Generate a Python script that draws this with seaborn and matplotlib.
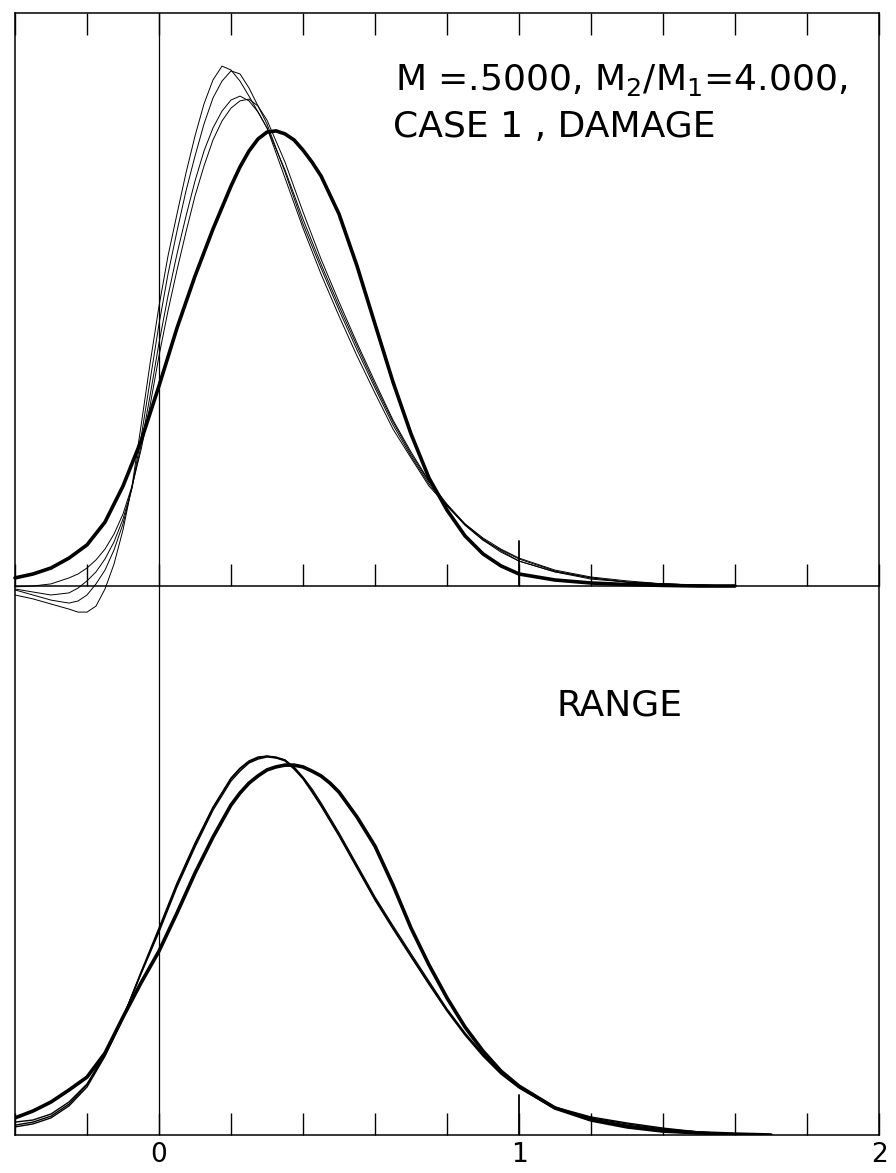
import matplotlib.pyplot as plt
import seaborn as sns
import numpy as np

# upper panel (damage) - ordinates, frame top = 1.91
x_dmg_thick = [-0.4, -0.35, -0.3, -0.25, -0.2, -0.15, -0.1, -0.05, 0.0, 0.05, 0.1, 0.15, 0.2,
               0.225, 0.25, 0.275, 0.3, 0.325, 0.35, 0.375, 0.4, 0.425, 0.45, 0.5, 0.55, 0.6,
               0.65, 0.7, 0.75, 0.8, 0.85, 0.9, 0.95, 1.0, 1.1, 1.2, 1.3, 1.4, 1.5, 1.6]
dmg_thick = [0.027, 0.040, 0.060, 0.093, 0.137, 0.213, 0.333, 0.483, 0.667, 0.860, 1.033, 1.190,
             1.333, 1.397, 1.450, 1.490, 1.513, 1.517, 1.507, 1.487, 1.453, 1.413, 1.367, 1.240,
             1.067, 0.873, 0.680, 0.507, 0.360, 0.253, 0.167, 0.107, 0.067, 0.040, 0.020, 0.010,
             0.005, 0.002, 0.0, 0.0]

x_dmg_thin = [-0.4, -0.35, -0.3, -0.25, -0.225, -0.2, -0.175, -0.15, -0.125, -0.1, -0.075, -0.05,
              -0.025, 0.0, 0.025, 0.05, 0.075, 0.1, 0.125, 0.15, 0.175, 0.2, 0.225, 0.25, 0.275,
              0.3, 0.35, 0.4, 0.45, 0.5, 0.55, 0.6, 0.65, 0.7, 0.75, 0.8, 0.85, 0.9, 0.95, 1.0,
              1.1, 1.2, 1.3, 1.4, 1.5, 1.6]
dmg_thin_a = [-0.030, -0.043, -0.060, -0.077, -0.087, -0.087, -0.067, -0.010, 0.073, 0.187, 0.333,
              0.533, 0.740, 0.933, 1.100, 1.240, 1.377, 1.500, 1.607, 1.687, 1.733, 1.720, 1.683,
              1.633, 1.580, 1.527, 1.360, 1.193, 1.040, 0.900, 0.767, 0.643, 0.523, 0.427, 0.333,
              0.267, 0.207, 0.160, 0.123, 0.093, 0.053, 0.030, 0.017, 0.007, 0.003, 0.0]
dmg_thin_b = [-0.013, -0.030, -0.047, -0.057, -0.050, -0.030, 0.007, 0.053, 0.120, 0.207, 0.327,
              0.493, 0.683, 0.873, 1.040, 1.183, 1.317, 1.433, 1.540, 1.627, 1.683, 1.717, 1.707,
              1.660, 1.600, 1.540, 1.380, 1.207, 1.060, 0.920, 0.787, 0.660, 0.537, 0.433, 0.340,
              0.267, 0.203, 0.153, 0.120, 0.090, 0.050, 0.027, 0.013, 0.007, 0.003, 0.0]
dmg_thin_c = [-0.010, -0.020, -0.030, -0.023, -0.007, 0.017, 0.047, 0.090, 0.147, 0.223, 0.327,
              0.467, 0.633, 0.810, 0.967, 1.107, 1.233, 1.350, 1.450, 1.527, 1.583, 1.620, 1.633,
              1.617, 1.580, 1.527, 1.387, 1.223, 1.073, 0.933, 0.800, 0.670, 0.547, 0.440, 0.347,
              0.270, 0.203, 0.153, 0.113, 0.083, 0.047, 0.027, 0.013, 0.007, 0.003, 0.0]
dmg_thin_d = [-0.003, 0.0, 0.007, 0.027, 0.040, 0.060, 0.087, 0.123, 0.173, 0.240, 0.333, 0.453,
              0.600, 0.767, 0.917, 1.053, 1.180, 1.300, 1.400, 1.487, 1.550, 1.593, 1.617, 1.623,
              1.600, 1.553, 1.413, 1.247, 1.090, 0.947, 0.810, 0.680, 0.553, 0.447, 0.350, 0.273,
              0.207, 0.157, 0.117, 0.083, 0.047, 0.023, 0.013, 0.007, 0.003, 0.0]

# lower panel (range)
x_rng = [-0.4, -0.35, -0.3, -0.25, -0.2, -0.15, -0.1, -0.05, 0.0, 0.05, 0.1, 0.15, 0.2, 0.225,
         0.25, 0.275, 0.3, 0.325, 0.35, 0.375, 0.4, 0.425, 0.45, 0.475, 0.5, 0.55, 0.6, 0.65,
         0.7, 0.75, 0.8, 0.85, 0.9, 0.95, 1.0, 1.1, 1.2, 1.3, 1.4, 1.5, 1.6, 1.7]
rng_thick = [0.057, 0.080, 0.110, 0.150, 0.193, 0.273, 0.393, 0.507, 0.613, 0.740, 0.873, 0.993,
             1.100, 1.140, 1.173, 1.197, 1.217, 1.227, 1.233, 1.233, 1.227, 1.213, 1.197, 1.173,
             1.143, 1.060, 0.963, 0.833, 0.690, 0.567, 0.457, 0.360, 0.280, 0.213, 0.163, 0.090,
             0.050, 0.027, 0.013, 0.007, 0.003, 0.0]
rng_thin_a = [0.033, 0.043, 0.063, 0.103, 0.167, 0.267, 0.390, 0.540, 0.683, 0.833, 0.967, 1.090,
              1.187, 1.220, 1.243, 1.257, 1.263, 1.260, 1.250, 1.223, 1.190, 1.147, 1.100, 1.050,
              1.000, 0.893, 0.787, 0.690, 0.597, 0.505, 0.417, 0.337, 0.267, 0.207, 0.160, 0.090,
              0.057, 0.037, 0.020, 0.010, 0.003, 0.0]
rng_thin_b = [0.027, 0.037, 0.057, 0.097, 0.160, 0.263, 0.390, 0.543, 0.690, 0.840, 0.973, 1.093,
              1.190, 1.223, 1.247, 1.260, 1.263, 1.257, 1.247, 1.220, 1.187, 1.143, 1.097, 1.047,
              0.997, 0.890, 0.783, 0.687, 0.594, 0.502, 0.413, 0.333, 0.263, 0.203, 0.157, 0.087,
              0.053, 0.033, 0.017, 0.007, 0.003, 0.0]
rng_thin_c = [0.043, 0.050, 0.070, 0.110, 0.170, 0.270, 0.393, 0.537, 0.677, 0.827, 0.960, 1.083,
              1.180, 1.213, 1.240, 1.253, 1.260, 1.257, 1.250, 1.227, 1.193, 1.153, 1.107, 1.057,
              1.007, 0.900, 0.793, 0.697, 0.604, 0.512, 0.420, 0.340, 0.270, 0.210, 0.163, 0.093,
              0.060, 0.040, 0.023, 0.010, 0.003, 0.0]

tick_pos = [-0.4, -0.2, 0.0, 0.2, 0.4, 0.6, 0.8, 1.0, 1.2, 1.4, 1.6, 1.8, 2.0]
tick_labels = ["", "", "0", "", "", "", "", "1", "", "", "", "", "2"]

sns.set_theme(style="white")
plt.rcParams['font.family'] = ['DejaVu Sans']
plt.rcParams['text.color'] = 'black'
plt.rcParams['xtick.color'] = 'black'

W, H = 896, 1173
fig = plt.figure(figsize=(W / 100, H / 100), dpi=100)
left, right = 15 / W, 879 / W
ax1 = fig.add_axes([left, (H - 586) / H, right - left, 573 / H])
ax2 = fig.add_axes([left, (H - 1135) / H, right - left, 549 / H])

for ax in (ax1, ax2):
    ax.patch.set_alpha(0)
    ax.set_xlim(-0.4, 2.0)
    ax.set_yticks([])
    ax.set_xticks(tick_pos)
    for s in ax.spines.values():
        s.set_color("black")
        s.set_linewidth(1.1)
    ax.axvline(0, color="black", lw=0.9)

ax1.set_ylim(0, 1.91)
ax2.set_ylim(0, 1.83)
ax2.spines["top"].set_visible(False)

ax1.tick_params(axis="x", direction="in", length=16, width=1.0, color="black",
                top=True, bottom=True, labelbottom=False, labeltop=False)
ax2.tick_params(axis="x", direction="in", length=16, width=1.0, color="black",
                top=False, bottom=True, labelsize=19, pad=5, labelcolor="black")
ax2.set_xticklabels(tick_labels)

# long tick at 1
ax1.axvline(1.0, ymin=0, ymax=45 / 573, color="black", lw=1.3)
ax2.axvline(1.0, ymin=0, ymax=40 / 549, color="black", lw=1.3)

for yv in (dmg_thin_a, dmg_thin_b, dmg_thin_c, dmg_thin_d):
    sns.lineplot(x=x_dmg_thin, y=yv, ax=ax1, color="black", linewidth=0.7, clip_on=False)
sns.lineplot(x=x_dmg_thick, y=dmg_thick, ax=ax1, color="black", linewidth=2.6, clip_on=False)

for yv in (rng_thin_a, rng_thin_b, rng_thin_c):
    sns.lineplot(x=x_rng, y=yv, ax=ax2, color="black", linewidth=1.0)
sns.lineplot(x=x_rng, y=rng_thick, ax=ax2, color="black", linewidth=2.6)

for ax in (ax1, ax2):
    ax.set_xlabel("")
    ax.set_ylabel("")

fig.text(395 / W, 1 - 90 / H, r"M =.5000, M$_2$/M$_1$=4.000,", fontsize=26, va="baseline")
fig.text(393 / W, 1 - 137 / H, "CASE 1 , DAMAGE", fontsize=26, va="baseline")
fig.text(556 / W, 1 - 716 / H, "RANGE", fontsize=26, va="baseline")

fig.savefig("out.png", dpi=100)
